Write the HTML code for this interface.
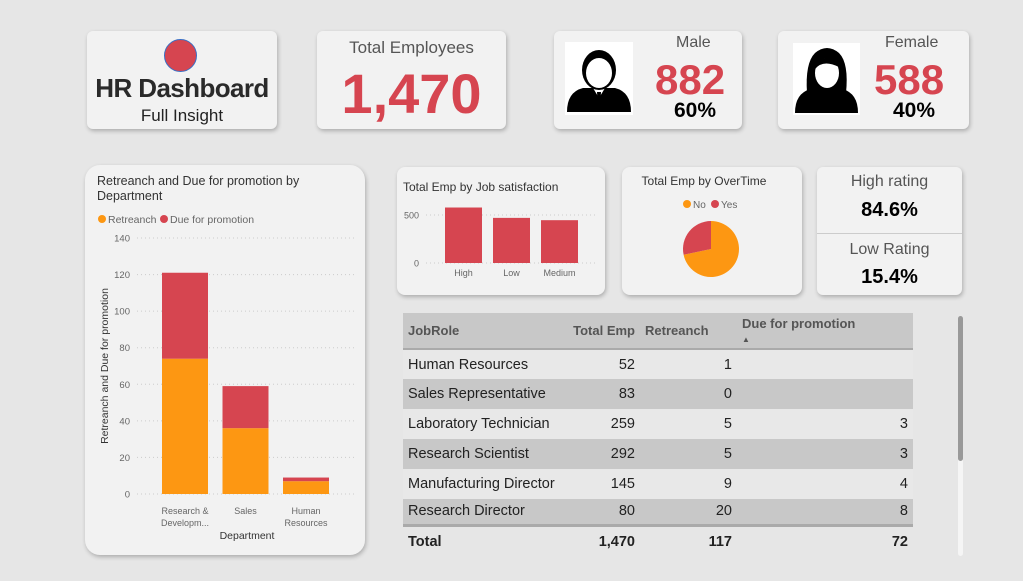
<!DOCTYPE html>
<html><head><meta charset="utf-8"><style>
body{margin:0;width:1023px;height:581px;background:#e6e6e6;font-family:"Liberation Sans",sans-serif;position:relative;overflow:hidden}
.card{position:absolute;background:#f2f2f2;border-radius:6px;box-shadow:1px 2px 4px rgba(0,0,0,0.25)}
.t{position:absolute;white-space:nowrap}
.red{color:#d64550}
table{border-collapse:collapse;table-layout:fixed}
</style></head><body>
<div class="card" style="left:87px;top:31px;width:190px;height:98px">
 <div style="position:absolute;left:77px;top:8px;width:33px;height:33px;border-radius:50%;background:#d64550;border:1px solid #3a6fc4;box-sizing:border-box"></div>
 <div class="t" style="left:0;width:190px;text-align:center;top:42px;font-size:26px;font-weight:bold;color:#2a2a2a;letter-spacing:-0.6px">HR Dashboard</div>
 <div class="t" style="left:0;width:190px;text-align:center;top:75px;font-size:17px;color:#222">Full Insight</div>
</div>
<div class="card" style="left:317px;top:31px;width:189px;height:98px">
 <div class="t" style="left:0;width:189px;text-align:center;top:7px;font-size:17px;color:#555">Total Employees</div>
 <div class="t red" style="left:0;width:189px;text-align:center;top:30px;font-size:56px;font-weight:bold">1,470</div>
</div>
<div class="card" style="left:554px;top:31px;width:188px;height:98px">
 <svg style="position:absolute;left:11px;top:11px" width="68" height="73" viewBox="0 0 68 73">
  <rect width="68" height="73" fill="#fff"/>
  <path d="M2 70 Q2 50 18 46 L50 46 Q66 50 66 70 Z" fill="#000"/>
  <path d="M28 46 L34 56 L40 46 Z" fill="#fff"/><path d="M32 50 L36 50 L35 66 L33 66Z" fill="#000"/>
  <ellipse cx="34" cy="28" rx="17" ry="20" fill="#000"/><ellipse cx="34" cy="31" rx="13" ry="15" fill="#fff"/>
 </svg>
 <div class="t" style="left:122px;top:3px;font-size:16px;color:#555">Male</div>
 <div class="t red" style="left:101px;top:25px;font-size:42px;font-weight:bold">882</div>
 <div class="t" style="left:120px;top:68px;font-size:21px;font-weight:bold">60%</div>
</div>
<div class="card" style="left:778px;top:31px;width:191px;height:98px">
 <svg style="position:absolute;left:15px;top:12px" width="67" height="72" viewBox="0 0 67 72">
  <rect width="67" height="72" fill="#fff"/>
  <path d="M2 70 Q2 50 18 46 L49 46 Q65 50 65 70 Z" fill="#000"/>
  <path d="M14 50 Q12 20 22 10 Q34 0 46 10 Q56 20 53 50 Z" fill="#000"/>
  <ellipse cx="34" cy="30" rx="12" ry="15" fill="#fff"/><path d="M22 26 Q30 16 46 24 L46 18 Q34 10 22 20Z" fill="#000"/>
 </svg>
 <div class="t" style="left:107px;top:3px;font-size:16px;color:#555">Female</div>
 <div class="t red" style="left:96px;top:25px;font-size:42px;font-weight:bold">588</div>
 <div class="t" style="left:115px;top:68px;font-size:21px;font-weight:bold">40%</div>
</div>
<div class="card" style="left:85px;top:165px;width:280px;height:390px;border-radius:15px"></div>
<div class="card" style="left:397px;top:167px;width:208px;height:128px;border-radius:8px"></div>
<div class="card" style="left:622px;top:167px;width:180px;height:128px;border-radius:8px"></div>
<div class="card" style="left:817px;top:167px;width:145px;height:128px;border-radius:6px">
 <div class="t" style="left:0;width:145px;text-align:center;top:6px;font-size:16px;color:#555">High rating</div>
 <div class="t" style="left:0;width:145px;text-align:center;top:32px;font-size:20px;font-weight:bold">84.6%</div>
 <div style="position:absolute;left:0;top:66px;width:145px;height:1px;background:#ccc"></div>
 <div class="t" style="left:0;width:145px;text-align:center;top:74px;font-size:16px;color:#555">Low Rating</div>
 <div class="t" style="left:0;width:145px;text-align:center;top:99px;font-size:20px;font-weight:bold">15.4%</div>
</div>

<svg id="charts" style="position:absolute;left:0;top:0" width="1023" height="581" font-family="Liberation Sans, sans-serif"></svg>

<table style="position:absolute;left:403px;top:313px;width:510px;font-size:14.5px;color:#222">
 <colgroup><col style="width:165px"><col style="width:68px"><col style="width:97px"><col style="width:180px"></colgroup>
 <tr style="background:#c8c8c8;height:36px;font-weight:bold;font-size:13px;color:#555;border-bottom:2px solid #aaa">
  <td style="padding-left:5px">JobRole</td><td style="text-align:right;white-space:nowrap;overflow:visible;direction:rtl">Total Emp</td><td style="text-align:left;padding-left:9px">Retreanch</td><td style="padding-left:9px;line-height:14px;padding-top:4px">Due for promotion<br><span style="font-size:8px">▲</span></td></tr>
</table>
<div style="position:absolute;left:958px;top:316px;width:5px;height:240px;background:#f5f5f5;border-radius:3px"><div style="width:5px;height:145px;background:#999;border-radius:3px"></div></div>

<script>
const NS="http://www.w3.org/2000/svg";
const svg=document.getElementById('charts');
function el(tag,attrs,text){const e=document.createElementNS(NS,tag);for(const k in attrs)e.setAttribute(k,attrs[k]);if(text!==undefined)e.textContent=text;svg.appendChild(e);return e;}

// Department chart data
const deptCategories=["Research & Developm...","Sales","Human Resources"];
const retreanchValues=[74,36,7];
const promotionValues=[47,23,2];
const deptTicks=[0,20,40,60,80,100,120,140];
// Job satisfaction data
const jobCategories=["High","Low","Medium"];
const jobValues=[578,470,446];
const jobTicks=[0,500];
// Overtime data
const overtimeLabels=["No","Yes"];
const overtimeValues=[1054,416];
// Table data
const roles=["Human Resources","Sales Representative","Laboratory Technician","Research Scientist","Manufacturing Director","Research Director"];
const roleTotals=[52,83,259,292,145,80];
const roleRetreanch=[1,0,5,5,9,20];
const rolePromotion=["","",3,3,4,8];

const RED="#d64550",ORANGE="#fd9712";
let t;
t=el('text',{x:97,y:185,'font-size':12.5,fill:'#333'},'Retreanch and Due for promotion by');

el('text',{x:97,y:200,'font-size':12.5,fill:'#333'},'Department');
el('circle',{cx:102,cy:219,r:4,fill:ORANGE});el('text',{x:108,y:223,'font-size':10.5,fill:'#666'},'Retreanch');
el('circle',{cx:164,cy:219,r:4,fill:RED});el('text',{x:170,y:223,'font-size':10.5,fill:'#666'},'Due for promotion');
const y1=v=>494-v*(256/140);
deptTicks.forEach(v=>{
 const g=el('line',{x1:137,x2:355,y1:y1(v),y2:y1(v),stroke:'#ccc','stroke-dasharray':'1,3'});
 
 el('text',{x:130,y:y1(v)+3.5,'font-size':9.5,fill:'#666','text-anchor':'end'},v);
});
const yt=el('text',{x:0,y:0,'font-size':10.5,fill:'#333','text-anchor':'middle',transform:'translate(108,366) rotate(-90)'},'Retreanch and Due for promotion');

const bx=i=>162+i*60.5;
deptCategories.forEach((c,i)=>{
 const r=el('rect',{x:bx(i),y:y1(retreanchValues[i]),width:46,height:y1(0)-y1(retreanchValues[i]),fill:ORANGE});
 
 const tot=retreanchValues[i]+promotionValues[i];
 const p=el('rect',{x:bx(i),y:y1(tot),width:46,height:y1(retreanchValues[i])-y1(tot),fill:RED});
 
 const parts=c==="Human Resources"?["Human","Resources"]:c.startsWith("Research")?["Research &","Developm..."]:[c];
 parts.forEach((s,j)=>el('text',{x:bx(i)+23,y:514+j*12,'font-size':9,fill:'#666','text-anchor':'middle'},s));
});
const xt=el('text',{x:247,y:539,'font-size':10.5,fill:'#333','text-anchor':'middle'},'Department');


t=el('text',{x:403,y:191,'font-size':12,fill:'#333'},'Total Emp by Job satisfaction');

const y2=v=>263-v*(48/500);
jobTicks.forEach(v=>{el('line',{x1:426,x2:595,y1:y2(v),y2:y2(v),stroke:'#ccc','stroke-dasharray':'1,3'});
 el('text',{x:419,y:y2(v)+3.5,'font-size':9,fill:'#666','text-anchor':'end'},v);});
jobCategories.forEach((c,i)=>{
 const x=445+i*48;
 const b=el('rect',{x:x,y:y2(jobValues[i]),width:37,height:y2(0)-y2(jobValues[i]),fill:RED});
 
 el('text',{x:x+18.5,y:276,'font-size':9,fill:'#666','text-anchor':'middle'},c);
});

t=el('text',{x:704,y:185,'font-size':12,fill:'#333','text-anchor':'middle'},'Total Emp by OverTime');

el('circle',{cx:687,cy:204,r:4,fill:ORANGE});el('text',{x:693,y:208,'font-size':10,fill:'#666'},'No');
el('circle',{cx:715,cy:204,r:4,fill:RED});el('text',{x:721,y:208,'font-size':10,fill:'#666'},'Yes');
const total=overtimeValues.reduce((a,b)=>a+b,0);
const cx=711,cy=249,R=28;let ang=0;
overtimeValues.forEach((v,i)=>{
 const a0=ang,a1=ang+v/total*2*Math.PI;ang=a1;
 const p0=[cx+R*Math.sin(a0),cy-R*Math.cos(a0)],p1=[cx+R*Math.sin(a1),cy-R*Math.cos(a1)];
 const s=el('path',{d:`M${cx},${cy} L${p0[0]},${p0[1]} A${R},${R} 0 ${a1-a0>Math.PI?1:0} 1 ${p1[0]},${p1[1]} Z`,fill:i==0?ORANGE:RED});
 
});

const tbl=document.querySelector('table');
const fmt=n=>n.toLocaleString('en-US');
roles.forEach((r,i)=>{
 const tr=document.createElement('tr');
 
 
 tr.style.height=(i==5?26:30)+'px';tr.style.background=i%2?'#c8c8c8':'#e8e8e8';
 tr.innerHTML=`<td style="padding-left:5px;white-space:nowrap">${r}</td><td style="text-align:right">${roleTotals[i]}</td><td style="text-align:right">${roleRetreanch[i]}</td><td style="text-align:right;padding-right:5px">${rolePromotion[i]}</td>`;
 tbl.appendChild(tr);
});
const tt=document.createElement('tr');


tt.style.height='33px';tt.style.fontWeight='bold';tt.style.borderTop='3px solid #aaa';
tt.innerHTML=`<td style="padding-left:5px">Total</td><td style="text-align:right">${fmt(roleTotals.reduce((a,b)=>a+b,0)+559)}</td><td style="text-align:right">117</td><td style="text-align:right;padding-right:5px">72</td>`;
tbl.appendChild(tt);
</script>
</body></html>
